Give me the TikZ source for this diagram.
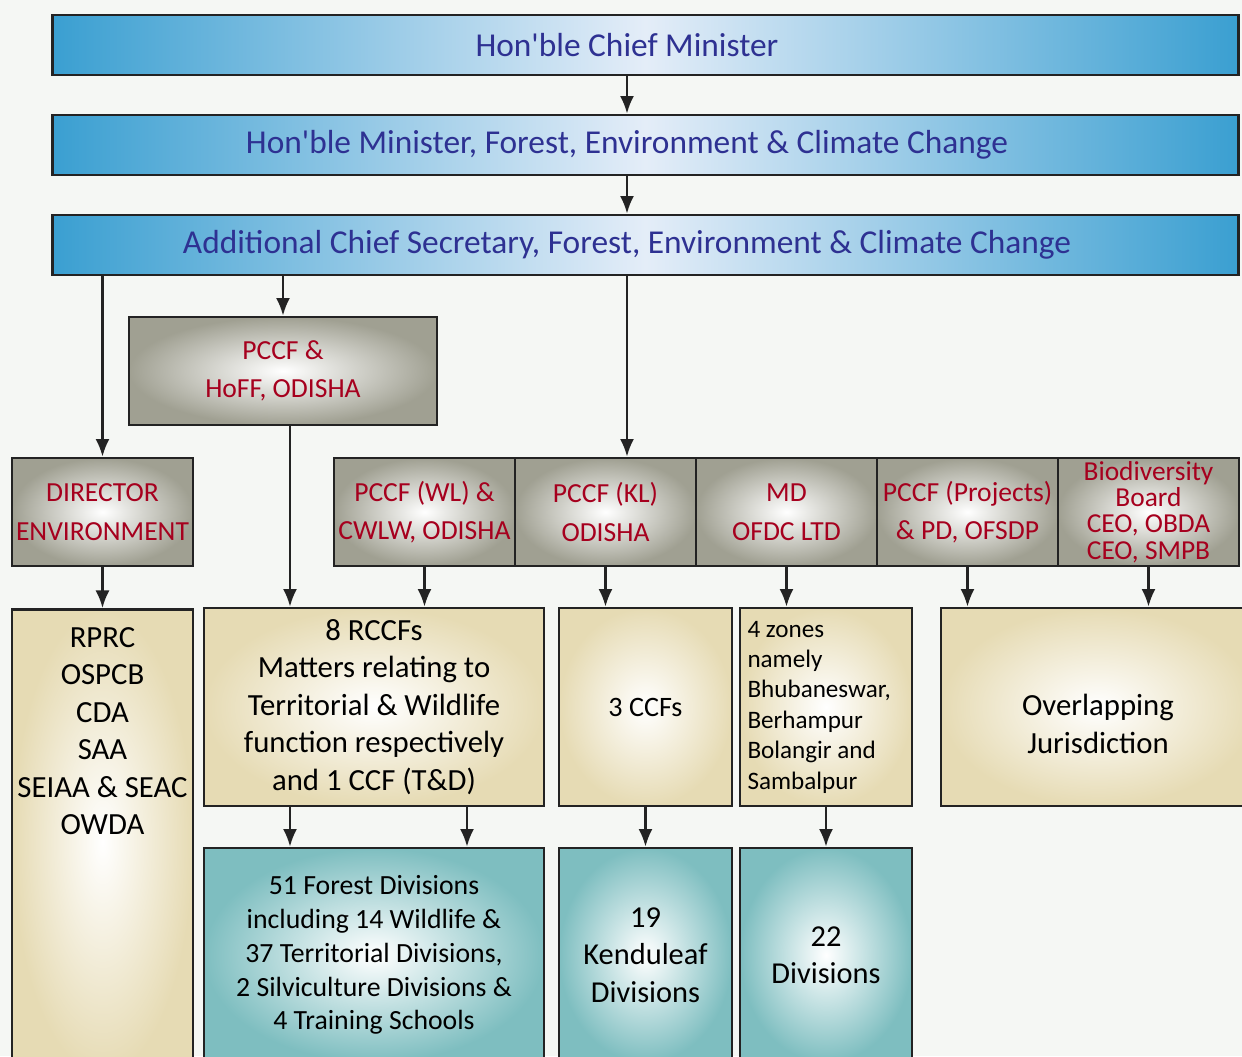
\documentclass[tikz,border=0pt]{standalone}
\usepackage{fontspec}
\setmainfont{Carlito}[Ligatures=TeXOff]
\usepackage{tikz}
\usetikzlibrary{positioning}
\usetikzlibrary{arrows.meta}
\definecolor{bgcol}{RGB}{245,247,244}
\definecolor{skyblue}{RGB}{58,159,209}
\definecolor{paleblue}{RGB}{228,237,248}
\definecolor{navytxt}{RGB}{46,49,146}
\definecolor{redtxt}{RGB}{166,0,30}
\definecolor{greyout}{RGB}{160,160,146}
\definecolor{sandout}{RGB}{230,219,180}
\definecolor{tealout}{RGB}{126,190,192}
\definecolor{edgecol}{RGB}{35,35,35}
\tikzstyle{arr}=[-{Latex[length=10pt,width=8pt]},line width=1.3pt,draw=edgecol]
\tikzset{
  govbox/.style={draw=edgecol,line width=1.6pt,left color=skyblue,right color=skyblue,
    middle color=paleblue,minimum width=23.74cm,minimum height=1.2cm,text=navytxt,
    font=\fontsize{19}{23}\selectfont,execute at end node={\hspace*{0.74cm}}},
  headbox/.style={draw=edgecol,line width=1.6pt,inner color=white,outer color=greyout,
    minimum width=3.62cm,minimum height=2.16cm,text=redtxt,align=center,inner sep=1pt,
    font=\fontsize{15.7}{22}\selectfont},
  subbox/.style={draw=edgecol,line width=1.6pt,inner color=white,outer color=sandout,
    minimum height=3.96cm,align=center,font=\fontsize{17.5}{21.3}\selectfont},
  divbox/.style={draw=edgecol,line width=1.6pt,inner color=white,outer color=tealout,
    minimum height=4.28cm,align=center,font=\fontsize{17.3}{21.3}\selectfont}
}
\begin{document}
\begin{tikzpicture}[x=0.02cm,y=-0.02cm]

    % frame of the page, boxes running off the edge are cut
    \useasboundingbox (0,0) rectangle (1242,1056);
    \clip (0,0) rectangle (1242,1056);
    \fill[bgcol] (0,0) rectangle (1242,1056);

    % top of the chain
    \node[govbox] (chief) at (645.5,45) {Hon'ble Chief Minister};
    \node[govbox] (minister) at (645.5,145) {Hon'ble Minister, Forest, Environment \& Climate Change};
    \node[govbox] (acs) at (645.5,245) {Additional Chief Secretary, Forest, Environment \& Climate Change};

    \node[headbox, minimum width=6.16cm] (hoff) at (283,371) {PCCF \&\\HoFF, ODISHA};

    % row of heads
    \node[headbox] (director) at (102.5,512) {DIRECTOR\\ENVIRONMENT};
    \node[headbox] (wl) at (424.5,512) {PCCF (WL) \&\\CWLW, ODISHA};
    \node[headbox] (kl) at (605.5,512) {PCCF (KL)\\ODISHA};
    \node[headbox] (md) at (786.5,512) {MD\\OFDC LTD};
    \node[headbox] (proj) at (967.5,512) {PCCF (Projects)\\\& PD, OFSDP};
    \node[headbox, font=\fontsize{15.6}{14.9}\selectfont] (bio) at (1148.5,512)
        {Biodiversity\\Board\\CEO, OBDA\\CEO, SMPB};

    % second level
    \node[subbox, minimum width=3.62cm, minimum height=9.3cm, anchor=north] (rprc) at (102.5,608) {};
    \node[font=\fontsize{17.5}{21.3}\selectfont, align=center, inner sep=0pt, anchor=north,
        below=0.38cm of rprc.north] (rprctext) {RPRC\\OSPCB\\CDA\\SAA\\SEIAA \& SEAC\\OWDA};
    \node[subbox, minimum width=6.8cm] (rccf) at (374,707)
        {8 RCCFs\\Matters relating to\\Territorial \& Wildlife\\function respectively\\and 1 CCF (T\&D)};
    \node[subbox, minimum width=3.46cm, font=\fontsize{16}{21}\selectfont] (ccf) at (645.5,707) {3 CCFs};
    \node[subbox, text width=3.14cm, inner sep=0.15cm, align=flush left,
        font=\fontsize{14.3}{17.3}\selectfont] (zones) at (826,707)
        {4 zones\\namely\\Bhubaneswar,\\Berhampur\\Bolangir and\\Sambalpur};
    \node[subbox, minimum width=6.28cm] (overlap) at (1098,707)
        {\mbox{}\\[0.35cm]Overlapping\\Jurisdiction};

    % divisions
    \node[divbox, minimum width=6.8cm, font=\fontsize{15.8}{19.3}\selectfont] (forest) at (374,955)
        {51 Forest Divisions\\including 14 Wildlife \&\\37 Territorial Divisions,\\2 Silviculture Divisions \&\\4 Training Schools};
    \node[divbox, minimum width=3.46cm] (kendu) at (645.5,955)
        {19\\Kenduleaf\\Divisions};
    \node[divbox, minimum width=3.44cm] (divs) at (826,955)
        {22\\Divisions};

    % connectors
    \coordinate (spine) at (627,0);
    \coordinate (hofftap) at (290,0);
    \coordinate (righttap) at (467,0);
    \draw[arr] (chief.south -| spine) -- (minister.north -| spine);
    \draw[arr] (minister.south -| spine) -- (acs.north -| spine);
    \draw[arr] (acs.south -| spine) -- (kl.north -| spine);
    \draw[arr] (acs.south -| director) -- (director.north);
    \draw[arr] (acs.south -| hoff) -- (hoff.north);
    \draw[arr] (hoff.south -| hofftap) -- (rccf.north -| hofftap);
    \draw[arr] (director.south) -- (rprc.north);
    \draw[arr] (wl.south) -- (rccf.north -| wl.south);
    \draw[arr] (kl.south) -- (ccf.north -| kl.south);
    \draw[arr] (md.south) -- (zones.north -| md.south);
    \draw[arr] (proj.south) -- (overlap.north -| proj.south);
    \draw[arr] (bio.south) -- (overlap.north -| bio.south);
    \draw[arr] (rccf.south -| hofftap) -- (forest.north -| hofftap);
    \draw[arr] (rccf.south -| righttap) -- (forest.north -| righttap);
    \draw[arr] (ccf.south) -- (kendu.north);
    \draw[arr] (zones.south) -- (divs.north);

\end{tikzpicture}
\end{document}
